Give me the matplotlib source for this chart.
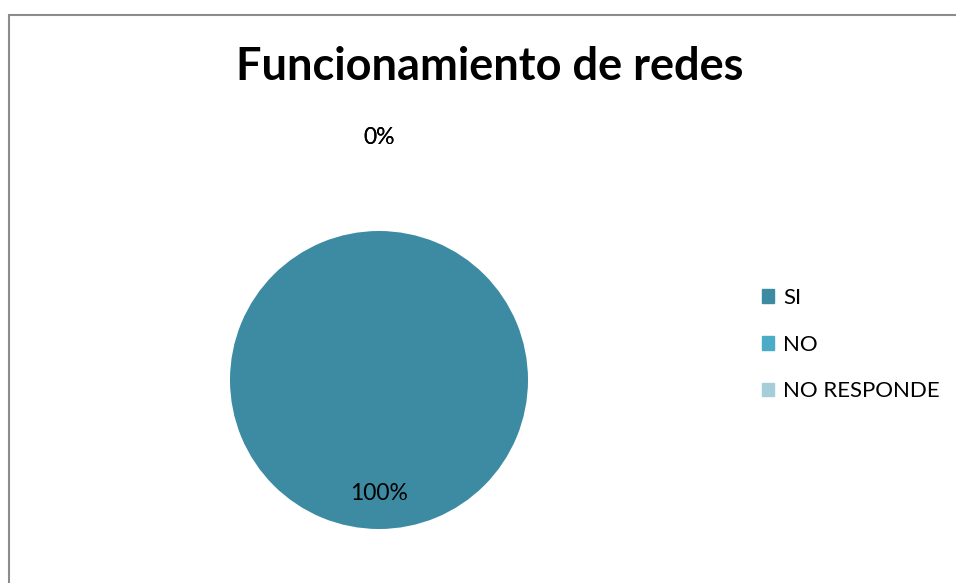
import matplotlib
matplotlib.use("Agg")
import matplotlib.pyplot as plt
import matplotlib.patches as mpatches
import numpy as np

# data
categories = ["SI", "NO", "NO RESPONDE"]
values = [100, 0, 0]
colors = ["#3C8BA3", "#4BACC6", "#A5CDDA"]
title = "Funcionamiento de redes"

W, H = 956, 583
fig = plt.figure(figsize=(W / 100, H / 100), dpi=100)
fig.patch.set_facecolor("white")

# chart border (only left and top visible in the crop)
fig.add_artist(mpatches.Rectangle((8.5 / W, -0.05), 1.2, (H - 14.5) / H + 0.05,
                                  transform=fig.transFigure, fill=False,
                                  edgecolor="#8C8C8C", linewidth=1.5))

fig.text(490 / W, 1 - 67 / H, title, ha="center", va="center",
         fontsize=32.5, fontweight="bold", family="Lato", color="black")

# pie axes: centre (379, 380), radius 149 px
cx, cy, r = 379, 380, 149
ax = fig.add_axes([(cx - r) / W, (H - cy - r) / H, 2 * r / W, 2 * r / H])
ax.axis("off")

wedges, _ = ax.pie(values, colors=colors, startangle=90, counterclock=False,
                   radius=1, wedgeprops=dict(linewidth=0))
ax.set_xlim(-1, 1)
ax.set_ylim(-1, 1)
ax.set_aspect("equal")

total = sum(values)
start = 90.0
for v in values:
    sweep = 360.0 * v / total
    mid = np.deg2rad(start - sweep / 2)
    dist = 0.76 if v > 0 else 1.63
    ax.text(dist * np.cos(mid), dist * np.sin(mid), f"{v / total:.0%}",
            ha="center", va="center", fontsize=16.5, family="Lato",
            color="black", clip_on=False)
    start -= sweep

handles = [mpatches.Patch(color=c, label=l) for c, l in zip(colors, categories)]
leg = fig.legend(handles=handles,
                 loc="upper left", bbox_to_anchor=(742 / W, 1 - 268 / H),
                 frameon=False, prop=dict(family="Lato", size=16),
                 handlelength=0.55, handleheight=0.55, handletextpad=0.4,
                 labelspacing=1.2)

fig.savefig("out.png", dpi=100, facecolor="white")
